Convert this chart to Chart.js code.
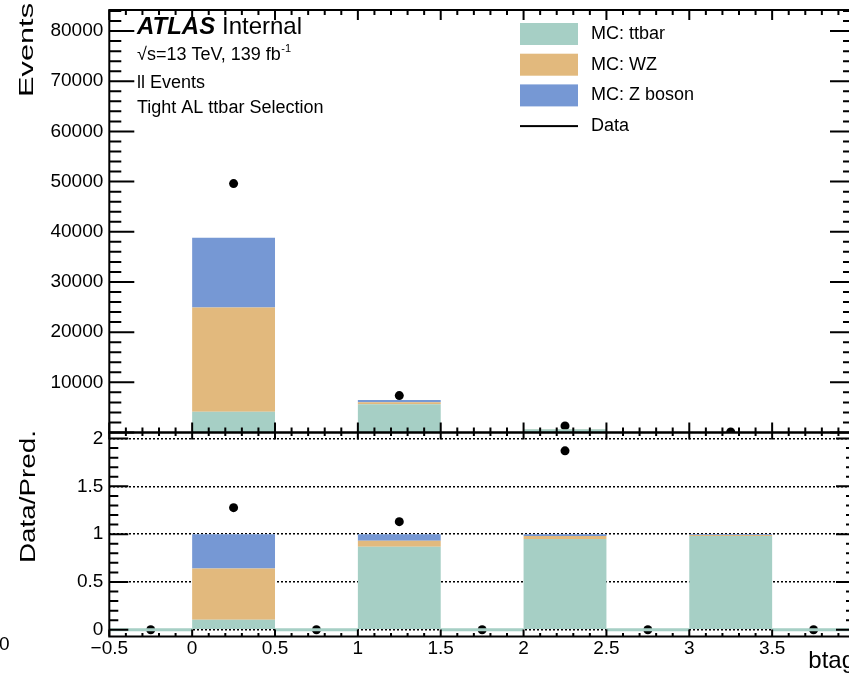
<!DOCTYPE html>
<html lang="en">
<head>
  <meta charset="UTF-8">
  <title>btag</title>
  <script src="https://cdn.jsdelivr.net/npm/chart.js"></script>
  <style>
    body { margin: 0; background: #fff; overflow: hidden; }
    #wrap { position: relative; width: 849px; height: 676px; overflow: hidden; }
    canvas { position: absolute; left: 0; }
    #main { top: 0; }
    #ratio { top: 420px; }
  </style>
</head>
<body>
<div id="wrap">
  <canvas id="main" width="880" height="440"></canvas>
  <canvas id="ratio" width="880" height="256"></canvas>
</div>
<script>
// bins of width 0.5 from -0.5 to 4
const binCenters = [-0.25, 0.25, 0.75, 1.25, 1.75, 2.25, 2.75, 3.25, 3.75];
const ttbar  = [0, 4130, 0, 5650, 0, 665, 0, 49, 0];
const wz     = [0, 20800, 0, 400, 0, 21, 0, 0.6, 0];
const zBoson = [0, 13900, 0, 450, 0, 14, 0, 0.4, 0];
const dataEvents = [0, 49600, 0, 7350, 0, 1310, 0, 120, 0];

const xTicks = [-0.5, 0, 0.5, 1, 1.5, 2, 2.5, 3, 3.5];
const eventTicks = [10000, 20000, 30000, 40000, 50000, 60000, 70000, 80000];
const ratioTicks = [0, 0.5, 1, 1.5, 2];

const colTtbar = '#a6cfc5';
const colWZ = '#e2b97d';
const colZ = '#7698d4';

Chart.defaults.font.family = "'Liberation Sans', Arial, sans-serif";
Chart.defaults.color = '#000';

const predTotal = binCenters.map((_, i) => ttbar[i] + wz[i] + zBoson[i]);
const frac = arr => arr.map((v, i) => predTotal[i] > 0 ? v / predTotal[i] : 0);
const ratio = dataEvents.map((v, i) => predTotal[i] > 0 ? v / predTotal[i] : 0);

function hist(label, values, color, extra) {
  return Object.assign({
    type: 'bar', label,
    data: binCenters.map((x, i) => ({ x, y: values[i] })),
    backgroundColor: color, borderWidth: 0, inflateAmount: 0,
    barPercentage: 1, categoryPercentage: 1
  }, extra || {});
}

function points(label, values) {
  return {
    type: 'scatter', label,
    data: binCenters.map((x, i) => ({ x, y: values[i] })),
    backgroundColor: '#000', borderWidth: 0, pointRadius: 4.5, pointHoverRadius: 4.5
  };
}

// ROOT style frame with inward ticks on all four sides
const rootFrame = {
  id: 'rootFrame',
  afterDatasetsDraw(chart, args, o) {
    const { ctx, chartArea: a, scales: { x, y } } = chart;
    ctx.save();
    ctx.strokeStyle = '#000';
    ctx.lineWidth = 2;
    ctx.beginPath();
    for (let i = Math.round(x.min * 10); i <= Math.round(x.max * 10); i++) {
      const px = x.getPixelForValue(i / 10);
      const len = i % 5 === 0 ? o.xMajor : o.xMinor;
      ctx.moveTo(px, a.bottom); ctx.lineTo(px, a.bottom - len);
      ctx.moveTo(px, a.top); ctx.lineTo(px, a.top + len);
    }
    for (let i = Math.ceil(y.min / o.yStep); i * o.yStep <= y.max; i++) {
      const py = y.getPixelForValue(i * o.yStep);
      const len = i % o.yPerMajor === 0 ? o.yMajor : o.yMinor;
      ctx.moveTo(a.left, py); ctx.lineTo(a.left + len, py);
      ctx.moveTo(a.right, py); ctx.lineTo(a.right - len, py);
    }
    ctx.stroke();
    ctx.strokeRect(a.left, a.top, a.right - a.left, a.bottom - a.top);
    ctx.restore();
  }
};

function verticalTitle(ctx, text, x, yStart, size, length) {
  ctx.save();
  ctx.font = size + "px 'Liberation Sans', Arial, sans-serif";
  ctx.fillStyle = '#000';
  ctx.textBaseline = 'alphabetic';
  ctx.textAlign = 'left';
  const w = ctx.measureText(text).width;
  ctx.translate(x, yStart);
  ctx.rotate(-Math.PI / 2);
  ctx.scale(length / w, 1);
  ctx.fillText(text, 0, 0);
  ctx.restore();
}

const mainLabels = {
  id: 'mainLabels',
  afterDraw(chart) {
    const ctx = chart.ctx;
    const fam = "'Liberation Sans', Arial, sans-serif";
    ctx.save();
    ctx.fillStyle = '#000';
    ctx.textBaseline = 'alphabetic';
    ctx.textAlign = 'left';
    ctx.font = 'italic bold 24px ' + fam;
    ctx.fillText('ATLAS', 137, 33.5);
    ctx.font = '24px ' + fam;
    ctx.fillText('Internal', 222, 33.5);
    ctx.font = '18px ' + fam;
    const energy = '\u221As=13 TeV, 139 fb';
    ctx.fillText(energy, 137, 60);
    const ew = ctx.measureText(energy).width;
    ctx.font = '11px ' + fam;
    ctx.fillText('-1', 137 + ew + 0.5, 52);
    ctx.font = '18px ' + fam;
    ctx.fillText('ll Events', 137, 88);
    ctx.fillText('Tight AL ttbar Selection', 137, 113);

    // legend
    const ds = chart.data.datasets;
    ctx.textBaseline = 'middle';
    for (let i = 0; i < ds.length; i++) {
      const rowY = 34 + i * 30.7;
      if (ds[i].type === 'bar') {
        ctx.fillStyle = ds[i].backgroundColor;
        ctx.fillRect(520, rowY - 11, 58, 22);
      } else {
        ctx.fillStyle = '#000';
        ctx.fillRect(520, rowY - 1, 58, 2);
      }
      ctx.fillStyle = '#000';
      ctx.fillText(ds[i].label, 591, rowY);
    }
    ctx.restore();
    verticalTitle(ctx, 'Events', 33, 97, 21, 94);
  }
};

const ratioLabels = {
  id: 'ratioLabels',
  afterDraw(chart) {
    const ctx = chart.ctx;
    verticalTitle(ctx, 'Data/Pred.', 35, 143, 22, 133);
    ctx.save();
    ctx.font = "19px 'Liberation Sans', Arial, sans-serif";
    ctx.fillStyle = '#000';
    ctx.textBaseline = 'middle';
    ctx.textAlign = 'left';
    ctx.fillText('0', -1, 225);
    ctx.restore();
  }
};

const setTicks = list => s => { s.ticks = list.map(v => ({ value: v })); };
const tickFont = { size: 19 };
const plain = v => String(v).replace('-', '\u2212');

// fixed axis box sizes, and no extra room reserved for edge labels
function fixBox(w, h) {
  return s => {
    if (w !== null) s.width = w;
    if (h !== null) s.height = h;
    s.paddingTop = s.paddingBottom = s.paddingLeft = s.paddingRight = 0;
  };
}

new Chart(document.getElementById('main'), {
  type: 'bar',
  data: {
    datasets: [
      hist('MC: ttbar', ttbar, colTtbar),
      hist('MC: WZ', wz, colWZ),
      hist('MC: Z boson', zBoson, colZ),
      points('Data', dataEvents.map(v => v > 0 ? v : null))
    ]
  },
  options: {
    responsive: false,
    animation: false,
    layout: { padding: { top: 10, right: 25, bottom: 7.5, left: 0 } },
    plugins: {
      legend: { display: false },
      tooltip: { enabled: false },
      rootFrame: { xMajor: 10, xMinor: 5, yStep: 2000, yPerMajor: 5, yMajor: 25, yMinor: 12 }
    },
    scales: {
      x: {
        type: 'linear', min: -0.5, max: 4, offset: false, display: false, stacked: true,
        afterBuildTicks: setTicks(xTicks)
      },
      y: {
        type: 'linear', min: 0, max: 84200, stacked: true,
        afterFit: fixBox(109.3, null),
        afterBuildTicks: setTicks(eventTicks),
        grid: { display: false, drawTicks: false },
        border: { display: false },
        ticks: { padding: 6, font: tickFont, color: '#000', callback: plain }
      }
    }
  },
  plugins: [rootFrame, mainLabels]
});

new Chart(document.getElementById('ratio'), {
  type: 'bar',
  data: {
    datasets: [
      hist('MC: ttbar', frac(ttbar), colTtbar, { minBarLength: 3 }),
      hist('MC: WZ', frac(wz), colWZ),
      hist('MC: Z boson', frac(zBoson), colZ),
      points('Data', ratio)
    ]
  },
  options: {
    responsive: false,
    animation: false,
    layout: { padding: { top: 12.5, right: 25, bottom: 0, left: 0 } },
    plugins: {
      legend: { display: false },
      tooltip: { enabled: false },
      rootFrame: { xMajor: 7, xMinor: 3.5, yStep: 0.1, yPerMajor: 5, yMajor: 19, yMinor: 9 }
    },
    scales: {
      x: {
        type: 'linear', min: -0.5, max: 4, offset: false, stacked: true,
        afterFit: fixBox(null, 39.5),
        afterBuildTicks: setTicks(xTicks),
        grid: { display: false, drawTicks: false },
        border: { display: false },
        ticks: {
          padding: 1, maxRotation: 0, autoSkip: false, font: tickFont, color: '#000',
          callback: plain
        },
        title: { display: true, text: 'btag', align: 'end', font: { size: 24 }, padding: 0, color: '#000' }
      },
      y: {
        type: 'linear', min: -0.07, max: 2.063, stacked: true,
        afterFit: fixBox(109.3, null),
        afterBuildTicks: setTicks(ratioTicks),
        grid: { display: true, drawTicks: false, color: '#000', lineWidth: 1.5 },
        border: { display: false, dash: [2, 2] },
        ticks: { padding: 6, font: tickFont, color: '#000', callback: plain }
      }
    }
  },
  plugins: [rootFrame, ratioLabels]
});
</script>
</body>
</html>
